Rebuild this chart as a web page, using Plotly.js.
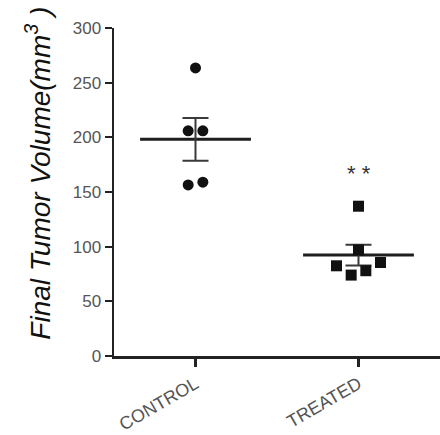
<!DOCTYPE html>
<html>
<head>
<meta charset="utf-8">
<script src="https://cdn.plot.ly/plotly-3.0.1.min.js"></script>
<style>
  html, body { margin: 0; padding: 0; background: #fff; }
  #chart { width: 440px; height: 435px; }
</style>
</head>
<body>
<div id="chart"></div>
<script>
// Final tumour volume per animal (mm³), one array per group
const categories = ['CONTROL', 'TREATED'];
const controlVolumes = [263.5, 206, 206, 156.5, 159];
const treatedVolumes = [137, 97, 82.5, 74, 78, 85.5];
const significance = ['', '* *'];
const yTicks = [0, 50, 100, 150, 200, 250, 300];

const groups = [controlVolumes, treatedVolumes];
const symbols = ['circle', 'square'];
const FONT = 'Arial, Liberation Sans, sans-serif';

// Spread points with similar values side by side (simple beeswarm)
function swarmOffsets(values, tol, step) {
  const idx = values.map((v, i) => i).sort((a, b) => values[a] - values[b]);
  const clusters = [];
  idx.forEach(i => {
    const last = clusters[clusters.length - 1];
    if (last && values[i] - values[last[last.length - 1]] <= tol) last.push(i);
    else clusters.push([i]);
  });
  const out = new Array(values.length).fill(0);
  clusters.forEach(c => {
    c.sort((a, b) => a - b);
    c.forEach((i, k) => { out[i] = (k - (c.length - 1) / 2) * step; });
  });
  return out;
}

function mean(a) { return a.reduce((s, v) => s + v, 0) / a.length; }
function sem(a) {
  const m = mean(a);
  const v = a.reduce((s, x) => s + (x - m) * (x - m), 0) / (a.length - 1);
  return Math.sqrt(v) / Math.sqrt(a.length);
}

const traces = [];
const annotations = [];
groups.forEach((vals, g) => {
  const m = mean(vals);
  const e = sem(vals);
  // mean line
  traces.push({
    x: [g - 0.34, g + 0.34], y: [m, m], mode: 'lines',
    line: { color: '#1e1e1e', width: 3 }, hoverinfo: 'skip', showlegend: false
  });
  // SEM whiskers
  traces.push({
    x: [g], y: [m], mode: 'markers', marker: { opacity: 0, size: 1 },
    error_y: { type: 'data', array: [e], visible: true, color: '#3a3a3a', thickness: 2, width: 13 },
    hoverinfo: 'skip', showlegend: false
  });
  // individual animals
  const offs = swarmOffsets(vals, 10, 0.09);
  traces.push({
    x: vals.map((v, i) => g + offs[i]), y: vals, mode: 'markers',
    marker: { symbol: symbols[g], size: 11, color: '#111' },
    name: categories[g], showlegend: false
  });
  if (significance[g]) {
    annotations.push({
      x: g, y: Math.max(...vals) + 30, xref: 'x', yref: 'y',
      text: significance[g], showarrow: false,
      font: { family: FONT, size: 22, color: '#333' },
      xanchor: 'center', yanchor: 'middle'
    });
  }
});

annotations.push({
  xref: 'paper', yref: 'paper', x: -0.233, y: 0.556,
  text: '<i>Final Tumor Volume(mm<sup>3</sup> )</i>',
  textangle: -90, showarrow: false, xanchor: 'center', yanchor: 'middle',
  font: { family: FONT, size: 28, color: '#111', style: 'italic' }
});

const layout = {
  width: 440, height: 435,
  margin: { l: 114, r: 0, t: 28, b: 79 },
  paper_bgcolor: '#fff', plot_bgcolor: '#fff',
  font: { family: FONT, size: 15, color: '#555' },
  xaxis: {
    range: [-0.5, 1.5], tickvals: [0, 1], ticktext: categories,
    tickangle: -30, tickfont: { family: FONT, size: 18, color: '#555' },
    ticks: 'outside', ticklen: 8, tickwidth: 2.5, tickcolor: '#222',
    showline: true, linecolor: '#222', linewidth: 2.5,
    showgrid: false, zeroline: false
  },
  yaxis: {
    range: [0, 300], tickvals: yTicks,
    tickfont: { family: FONT, size: 17, color: '#555' },
    ticks: 'outside', ticklen: 7, tickwidth: 2, tickcolor: '#222',
    showline: true, linecolor: '#222', linewidth: 2.5,
    showgrid: false, zeroline: false
  },
  annotations: annotations
};

Plotly.newPlot('chart', traces, layout, { displayModeBar: false, staticPlot: true });
</script>
</body>
</html>
